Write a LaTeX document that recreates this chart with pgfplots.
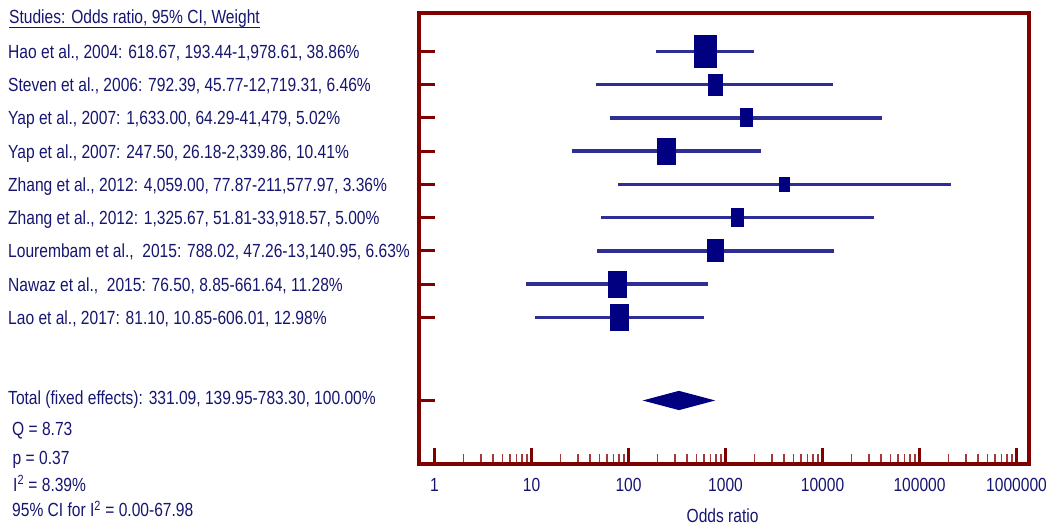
\documentclass[border=0pt]{standalone}
\usepackage{fontspec}
\setmainfont{Liberation Sans}[FakeStretch=0.82]
\usepackage{pgfplots}
\usepackage{pgfplotstable}
\pgfplotsset{compat=1.18}

\definecolor{navytext}{RGB}{22,22,112}
\definecolor{boxnavy}{RGB}{0,0,128}
\definecolor{cinavy}{RGB}{46,46,150}
\definecolor{frame}{RGB}{128,0,0}
\definecolor{minorred}{RGB}{165,55,55}

% upright rectangle mark: half height = mark size, half width = 0.7 x mark size
\pgfdeclareplotmark{vrect}{%
  \pgfpathrectangle{\pgfpoint{-0.7\pgfplotmarksize}{-\pgfplotmarksize}}%
                   {\pgfpoint{1.4\pgfplotmarksize}{2\pgfplotmarksize}}%
  \pgfusepathqfill}

% odds ratio, row, half height of the weight box (pt)
\pgfplotstableread{
or      row half
618.67  1   16.5
792.39  2   11
1633.00 3   9.5
247.50  4   13.5
4059.00 5   7.7
1325.67 6   9.8
788.02  7   11.5
76.50   8   13.5
81.10   9   13.5
}\studies

\newcommand\txt{\fontsize{19}{23}\selectfont}

\begin{document}
\txt
\begin{tikzpicture}
\useasboundingbox (0,0) rectangle (1046pt,530pt);
\begin{axis}[
  at={(419pt,66pt)}, anchor=south west,
  width=610pt, height=451pt, scale only axis,
  xmode=log, xmin=0.692, xmax=1.345e6,
  ymin=-0.152, ymax=13.41, y dir=reverse,
  axis line style={frame, line width=3.3pt},
  xtick={1,10,100,1000,10000,100000,1000000},
  xticklabels={1,10,100,1000,10000,100000,1000000},
  minor xtick={2,3,4,5,6,7,8,9,
    20,30,40,50,60,70,80,90,
    200,300,400,500,600,700,800,900,
    2000,3000,4000,5000,6000,7000,8000,9000,
    20000,30000,40000,50000,60000,70000,80000,90000,
    200000,300000,400000,500000,600000,700000,800000,900000},
  ytick={1,2,3,4,5,6,7,8,9,11.5},
  yticklabels={},
  xtick pos=left, ytick pos=left,
  tick align=inside,
  major tick length=16pt,
  minor tick length=10pt,
  every major tick/.append style={frame, line width=3pt},
  every minor tick/.append style={minorred, line width=1.5pt},
  xticklabel style={text=navytext, font=\txt, anchor=base, yshift=-27pt},
  clip=false,
]
% confidence intervals
\addplot[cinavy, line width=3.4pt] coordinates {(193.44,1) (1978.61,1)};
\addplot[cinavy, line width=3.4pt] coordinates {(45.77,2) (12719.31,2)};
\addplot[cinavy, line width=3.4pt] coordinates {(64.29,3) (41479,3)};
\addplot[cinavy, line width=3.4pt] coordinates {(26.18,4) (2339.86,4)};
\addplot[cinavy, line width=3.4pt] coordinates {(77.87,5) (211577.97,5)};
\addplot[cinavy, line width=3.4pt] coordinates {(51.81,6) (33918.57,6)};
\addplot[cinavy, line width=3.4pt] coordinates {(47.26,7) (13140.95,7)};
\addplot[cinavy, line width=3.4pt] coordinates {(8.85,8) (661.64,8)};
\addplot[cinavy, line width=3.4pt] coordinates {(10.85,9) (606.01,9)};
% weight boxes
\addplot[scatter, only marks, mark=vrect,
  scatter/use mapped color={draw=none, fill=boxnavy},
  visualization depends on={\thisrow{half} \as \halfsize},
  scatter/@pre marker code/.append style={/tikz/mark size=\halfsize pt}]
  table[x=or, y=row] {\studies};
% pooled estimate
\addplot[fill=boxnavy, draw=none] coordinates
  {(139.95,11.5) (331.09,11.21) (783.30,11.5) (331.09,11.79)} -- cycle;
\end{axis}

\begin{scope}[every node/.style={inner sep=0pt, anchor=base west, text=navytext, font=\txt}]
\node (hdr) at (9pt,506pt) {Studies: Odds ratio, 95\% CI, Weight};
\draw[navytext, line width=1.4pt] ([yshift=-3.4pt]hdr.base west) -- ([yshift=-3.4pt]hdr.base east);
\foreach \lab [count=\i] in {
  {Hao et al., 2004: 618.67, 193.44-1,978.61, 38.86\%},
  {Steven et al., 2006: 792.39, 45.77-12,719.31, 6.46\%},
  {Yap et al., 2007: 1,633.00, 64.29-41,479, 5.02\%},
  {Yap et al., 2007: 247.50, 26.18-2,339.86, 10.41\%},
  {Zhang et al., 2012: 4,059.00, 77.87-211,577.97, 3.36\%},
  {Zhang et al., 2012: 1,325.67, 51.81-33,918.57, 5.00\%},
  {Lourembam et al.,\ \ 2015: 788.02, 47.26-13,140.95, 6.63\%},
  {Nawaz et al.,\ \ 2015: 76.50, 8.85-661.64, 11.28\%},
  {Lao et al., 2017: 81.10, 10.85-606.01, 12.98\%}}
  \node at (8pt,{530pt-58.3pt-33.25pt*(\i-1)}) {\lab};
\node at (8pt,125.7pt) {Total (fixed effects): 331.09, 139.95-783.30, 100.00\%};
\node at (12pt,95pt) {Q = 8.73};
\node at (12.5pt,65.7pt) {p = 0.37};
\node at (13pt,39pt) {I\textsuperscript{2} = 8.39\%};
\node at (12pt,13.3pt) {95\% CI for I\textsuperscript{2} = 0.00-67.98};
\node[anchor=base] at (722.6pt,7.3pt) {Odds ratio};
\end{scope}
\end{tikzpicture}
\end{document}
